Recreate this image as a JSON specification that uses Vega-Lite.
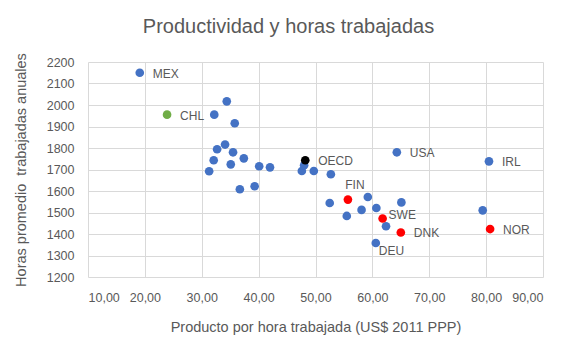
{
  "$schema": "https://vega.github.io/schema/vega-lite/v6.json",
  "width": 455,
  "height": 215,
  "autosize": {"type": "none"},
  "padding": {"left": 88, "top": 62, "right": 37, "bottom": 74},
  "background": "white",
  "config": {"view": {"stroke": null}, "font": "Liberation Sans"},
  "title": {
    "text": "Productividad y horas trabajadas",
    "fontSize": 20,
    "fontWeight": "normal",
    "color": "#595959",
    "anchor": "middle",
    "frame": "group",
    "dx": -27,
    "baseline": "alphabetic",
    "offset": 0
  },
  "data": {
    "values": [
      {"pais": "MEX", "grupo": "Otros", "productividad": 19.1, "horas": 2150},
      {"pais": "", "grupo": "Otros", "productividad": 32.2, "horas": 1955},
      {"pais": "", "grupo": "Otros", "productividad": 34.4, "horas": 2017},
      {"pais": "", "grupo": "Otros", "productividad": 35.8, "horas": 1915},
      {"pais": "", "grupo": "Otros", "productividad": 34.1, "horas": 1816},
      {"pais": "", "grupo": "Otros", "productividad": 32.7, "horas": 1794},
      {"pais": "", "grupo": "Otros", "productividad": 35.5, "horas": 1780},
      {"pais": "", "grupo": "Otros", "productividad": 37.4, "horas": 1752},
      {"pais": "", "grupo": "Otros", "productividad": 32.1, "horas": 1743},
      {"pais": "", "grupo": "Otros", "productividad": 35.1, "horas": 1724},
      {"pais": "", "grupo": "Otros", "productividad": 40.1, "horas": 1715},
      {"pais": "", "grupo": "Otros", "productividad": 42.0, "horas": 1710},
      {"pais": "", "grupo": "Otros", "productividad": 31.3, "horas": 1692},
      {"pais": "", "grupo": "Otros", "productividad": 36.7, "horas": 1608},
      {"pais": "", "grupo": "Otros", "productividad": 39.3, "horas": 1622},
      {"pais": "", "grupo": "Otros", "productividad": 47.6, "horas": 1693},
      {"pais": "", "grupo": "Otros", "productividad": 48.0, "horas": 1720},
      {"pais": "", "grupo": "Otros", "productividad": 49.7, "horas": 1693},
      {"pais": "", "grupo": "Otros", "productividad": 52.7, "horas": 1678},
      {"pais": "", "grupo": "Otros", "productividad": 52.5, "horas": 1544},
      {"pais": "", "grupo": "Otros", "productividad": 59.2, "horas": 1572},
      {"pais": "", "grupo": "Otros", "productividad": 65.1, "horas": 1547},
      {"pais": "", "grupo": "Otros", "productividad": 60.7, "horas": 1521},
      {"pais": "", "grupo": "Otros", "productividad": 58.1, "horas": 1512},
      {"pais": "", "grupo": "Otros", "productividad": 55.5, "horas": 1484},
      {"pais": "", "grupo": "Otros", "productividad": 62.4, "horas": 1436},
      {"pais": "", "grupo": "Otros", "productividad": 79.4, "horas": 1510},
      {"pais": "USA", "grupo": "Otros", "productividad": 64.3, "horas": 1780},
      {"pais": "IRL", "grupo": "Otros", "productividad": 80.5, "horas": 1738},
      {"pais": "DEU", "grupo": "Otros", "productividad": 60.6, "horas": 1358},
      {"pais": "CHL", "grupo": "Chile", "productividad": 23.9, "horas": 1955},
      {"pais": "OECD", "grupo": "OECD", "productividad": 48.2, "horas": 1743},
      {"pais": "FIN", "grupo": "Nórdicos", "productividad": 55.7, "horas": 1560},
      {"pais": "SWE", "grupo": "Nórdicos", "productividad": 61.8, "horas": 1472},
      {"pais": "DNK", "grupo": "Nórdicos", "productividad": 65.0, "horas": 1407},
      {"pais": "NOR", "grupo": "Nórdicos", "productividad": 80.7, "horas": 1423}
    ]
  },
  "encoding": {
    "x": {
      "field": "productividad",
      "type": "quantitative",
      "scale": {"domain": [10, 90], "nice": false, "zero": false},
      "axis": {
        "title": "Producto por hora trabajada (US$ 2011 PPP)",
        "values": [10, 20, 30, 40, 50, 60, 70, 80, 90],
        "labelExpr": "replace(format(datum.value, '.2f'), '.', ',')",
        "grid": true,
        "gridColor": "#D9D9D9",
        "domain": false,
        "ticks": false,
        "labelPadding": 14,
        "labelFontSize": 12.5,
        "labelColor": "#595959",
        "titleFontSize": 14.5,
        "titleFontWeight": "normal",
        "titleColor": "#595959",
        "titlePadding": 17
      }
    },
    "y": {
      "field": "horas",
      "type": "quantitative",
      "scale": {"domain": [1200, 2200], "nice": false, "zero": false},
      "axis": {
        "title": "Horas promedio\u00a0 trabajadas anuales",
        "values": [1200, 1300, 1400, 1500, 1600, 1700, 1800, 1900, 2000, 2100, 2200],
        "format": "d",
        "grid": true,
        "gridColor": "#D9D9D9",
        "domain": false,
        "ticks": false,
        "labelPadding": 14,
        "labelFontSize": 12.5,
        "labelColor": "#595959",
        "titleFontSize": 14.5,
        "titleFontWeight": "normal",
        "titleColor": "#595959",
        "titlePadding": 18
      }
    }
  },
  "layer": [
    {
      "mark": {"type": "circle", "size": 75, "opacity": 1},
      "encoding": {
        "color": {
          "field": "grupo",
          "type": "nominal",
          "scale": {"domain": ["Otros", "Chile", "OECD", "Nórdicos"], "range": ["#4472C4", "#70AD47", "#000000", "#FF0000"]},
          "legend": null
        }
      }
    },
    {
      "transform": [{"filter": {"field": "pais", "oneOf": ["MEX", "CHL", "OECD", "USA", "IRL", "DNK", "NOR"]}}],
      "mark": {"type": "text", "align": "left", "baseline": "middle", "dx": 13, "dy": 1, "fontSize": 12, "color": "#595959"},
      "encoding": {"text": {"field": "pais"}}
    },
    {
      "transform": [{"filter": {"field": "pais", "equal": "FIN"}}],
      "mark": {"type": "text", "align": "center", "baseline": "middle", "dx": 7, "dy": -15, "fontSize": 12, "color": "#595959"},
      "encoding": {"text": {"field": "pais"}}
    },
    {
      "transform": [{"filter": {"field": "pais", "equal": "SWE"}}],
      "mark": {"type": "text", "align": "left", "baseline": "middle", "dx": 6, "dy": -3.5, "fontSize": 12, "color": "#595959"},
      "encoding": {"text": {"field": "pais"}}
    },
    {
      "transform": [{"filter": {"field": "pais", "equal": "DEU"}}],
      "mark": {"type": "text", "align": "left", "baseline": "middle", "dx": 3, "dy": 8, "fontSize": 12, "color": "#595959"},
      "encoding": {"text": {"field": "pais"}}
    }
  ]
}
